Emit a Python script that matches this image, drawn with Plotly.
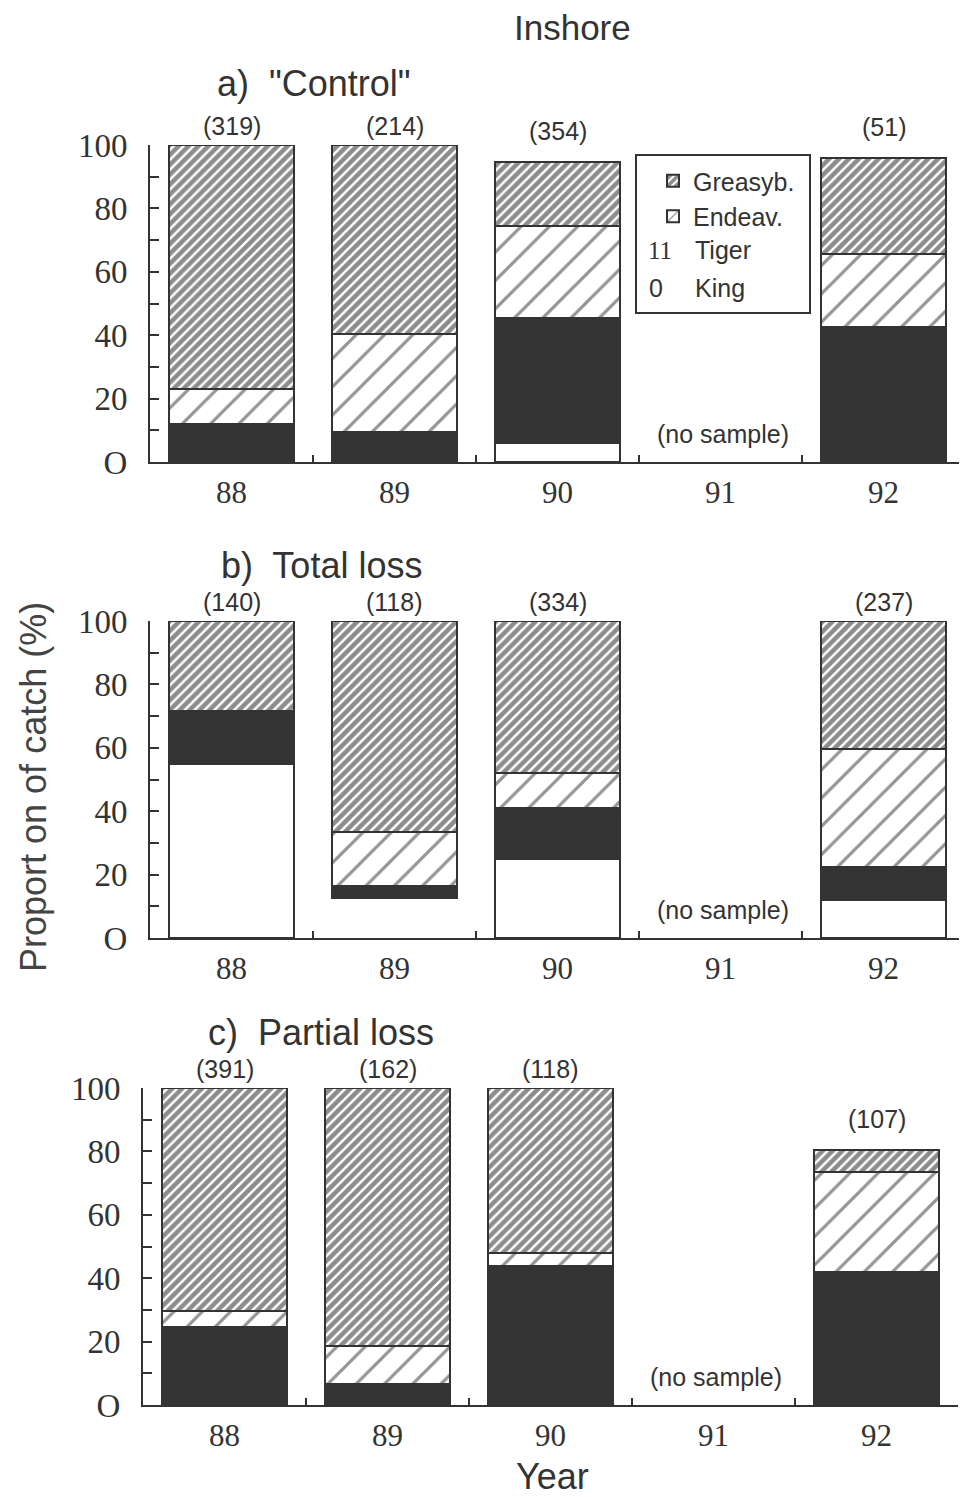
import plotly.graph_objects as go

W, H = 967, 1497
OFF = 8  # page body margin offset

years = ["88", "89", "90", "91", "92"]
y_tickvals = [0, 10, 20, 30, 40, 50, 60, 70, 80, 90, 100]
y_ticktext = ["O", "", "20", "", "40", "", "60", "", "80", "", "100"]

# Panel a) "Control"
a_king = [0, 0, 6, None, 0]
a_tiger = [12, 9.5, 39.5, None, 42.5]
a_endeav = [11, 31, 29, None, 23]
a_greasy = [77, 59.5, 20, None, 30.5]
a_n = ["(319)", "(214)", "(354)", "", "(51)"]

# Panel b) Total loss
b_king = [55, 12.5, 25, None, 12]
b_tiger = [16, 4, 16, None, 10.5]
b_endeav = [0.5, 17, 11, None, 37]
b_greasy = [28.5, 66.5, 48, None, 40.5]
b_n = ["(140)", "(118)", "(334)", "", "(237)"]

# Panel c) Partial loss
c_king = [0, 0, 0, None, 0]
c_tiger = [24.5, 6.5, 44, None, 42]
c_endeav = [5, 12, 4, None, 31.5]
c_greasy = [70.5, 81.5, 52, None, 7]
c_n = ["(391)", "(162)", "(118)", "", "(107)"]

SANS = "Liberation Sans, Arial, sans-serif"
SERIF = "Liberation Serif, Times New Roman, serif"
INK = "#333333"

def px(x):
    return (x - OFF) / W

def py(y):
    return 1 - (y - OFF) / H

fig = go.Figure()

panels = [
    ("x", "y", a_king, a_tiger, a_endeav, a_greasy, a_n, [2, 2, 2, 2, 2], True),
    ("x2", "y2", b_king, b_tiger, b_endeav, b_greasy, b_n, [2, 0, 2, 2, 2], False),
    ("x3", "y3", c_king, c_tiger, c_endeav, c_greasy, c_n, [2, 2, 2, 2, 2], False),
]

for xa, ya, king, tiger, endeav, greasy, ns, king_lw, show in panels:
    fig.add_trace(go.Bar(x=years, y=king, name="King", xaxis=xa, yaxis=ya, width=0.77,
                         marker=dict(color="white", line=dict(color=INK, width=king_lw)),
                         showlegend=False))
    fig.add_trace(go.Bar(x=years, y=tiger, name="Tiger", xaxis=xa, yaxis=ya, width=0.77,
                         marker=dict(color="#343434", line=dict(color=INK, width=1)),
                         showlegend=False))
    fig.add_trace(go.Bar(x=years, y=endeav, name="Endeav.", xaxis=xa, yaxis=ya, width=0.77,
                         marker=dict(color="white", line=dict(color=INK, width=2),
                                     pattern=dict(shape="/", fgcolor="#2a2a2a", bgcolor="white",
                                                  size=20, solidity=0.16)),
                         showlegend=show))
    fig.add_trace(go.Bar(x=years, y=greasy, name="Greasyb.", xaxis=xa, yaxis=ya, width=0.77,
                         marker=dict(color="white", line=dict(color=INK, width=2),
                                     pattern=dict(shape="/", fgcolor="#1a1a1a", bgcolor="white",
                                                  size=7, solidity=0.65)),
                         showlegend=show))
    # sample sizes above bars
    for i, lab in enumerate(ns):
        if not lab:
            continue
        total = (king[i] or 0) + (tiger[i] or 0) + (endeav[i] or 0) + (greasy[i] or 0)
        fig.add_annotation(x=i, y=total, xref=xa, yref=ya, text=lab, showarrow=False,
                           yshift=19 if total >= 99 else 31,
                           font=dict(family=SANS, size=25, color=INK))
    fig.add_annotation(x=years.index("91"), y=0, xref=xa, yref=ya, text="(no sample)",
                       showarrow=False, yshift=28, xshift=2,
                       font=dict(family=SANS, size=25, color=INK))

axis_common_x = dict(type="category", categoryorder="array", categoryarray=years,
                     range=[-0.5, 4.5], autorange=False,
                     showline=True, linecolor=INK, linewidth=2, ticks="inside",
                     tickson="boundaries", ticklen=7, tickcolor=INK, tickwidth=2,
                     tickfont=dict(family=SERIF, size=31, color=INK), ticklabelstandoff=2,
                     tickangle=0, automargin=False,
                     showgrid=False, zeroline=False, fixedrange=True)
axis_common_y = dict(range=[0, 100], autorange=False, tickmode="array", tickvals=y_tickvals,
                     ticktext=y_ticktext, automargin=False,
                     showline=True, linecolor=INK, linewidth=2, ticks="inside", ticklen=9,
                     tickcolor=INK, tickwidth=2, tickfont=dict(family=SERIF, size=33, color=INK),
                     ticklabelstandoff=14, showgrid=False, zeroline=False, fixedrange=True)

fig.update_layout(
    width=W, height=H, autosize=False, margin=dict(l=0, r=0, t=0, b=0, pad=0, autoexpand=False),
    paper_bgcolor="white", plot_bgcolor="white",
    barmode="stack", bargap=0.2,
    xaxis=dict(domain=[px(150), px(965)], anchor="y", **axis_common_x),
    yaxis=dict(domain=[py(462), py(145)], anchor="x", **axis_common_y),
    xaxis2=dict(domain=[px(150), px(965)], anchor="y2", **axis_common_x),
    yaxis2=dict(domain=[py(938), py(621)], anchor="x2", **axis_common_y),
    xaxis3=dict(domain=[px(143), px(958)], anchor="y3", **axis_common_x),
    yaxis3=dict(domain=[py(1405), py(1088)], anchor="x3", **axis_common_y),
    legend=dict(x=px(653), y=py(158), xanchor="left", yanchor="top",
                bgcolor="rgba(0,0,0,0)", font=dict(family=SANS, size=25, color=INK),
                traceorder="reversed"),
    showlegend=True,
)

# legend frame and the two text-only entries
fig.add_shape(type="rect", xref="paper", yref="paper", x0=px(636), x1=px(810), y0=py(313), y1=py(155),
              line=dict(color=INK, width=2))
for txt, fam, xx, yy in [("11", SERIF, 660, 250), ("Tiger", SANS, 693, 250),
                         ("0", SANS, 656, 288), ("King", SANS, 693, 288)]:
    fig.add_annotation(x=px(xx), y=py(yy), xref="paper", yref="paper", text=txt, showarrow=False,
                       xanchor="center" if len(txt) <= 2 else "left", yanchor="middle",
                       font=dict(family=fam, size=25, color=INK))

# titles
titles = [("Inshore", 572, 27, 35), ('a)  "Control"', 314, 83, 36),
          ("b)  Total loss", 321, 566, 36), ("c)  Partial loss", 321, 1032, 36),
          ("Year", 552, 1476, 36)]
for txt, xx, yy, sz in titles:
    fig.add_annotation(x=px(xx), y=py(yy), xref="paper", yref="paper", text=txt, showarrow=False,
                       xanchor="center", yanchor="middle", borderpad=0,
                       font=dict(family=SANS, size=sz, color=INK))

fig.add_annotation(x=px(33), y=py(787), xref="paper", yref="paper", text="Proport on of catch (%)",
                   showarrow=False, textangle=-90, xanchor="center", yanchor="middle",
                   font=dict(family=SANS, size=36, color="#444444"))

fig.write_html("out.html")
